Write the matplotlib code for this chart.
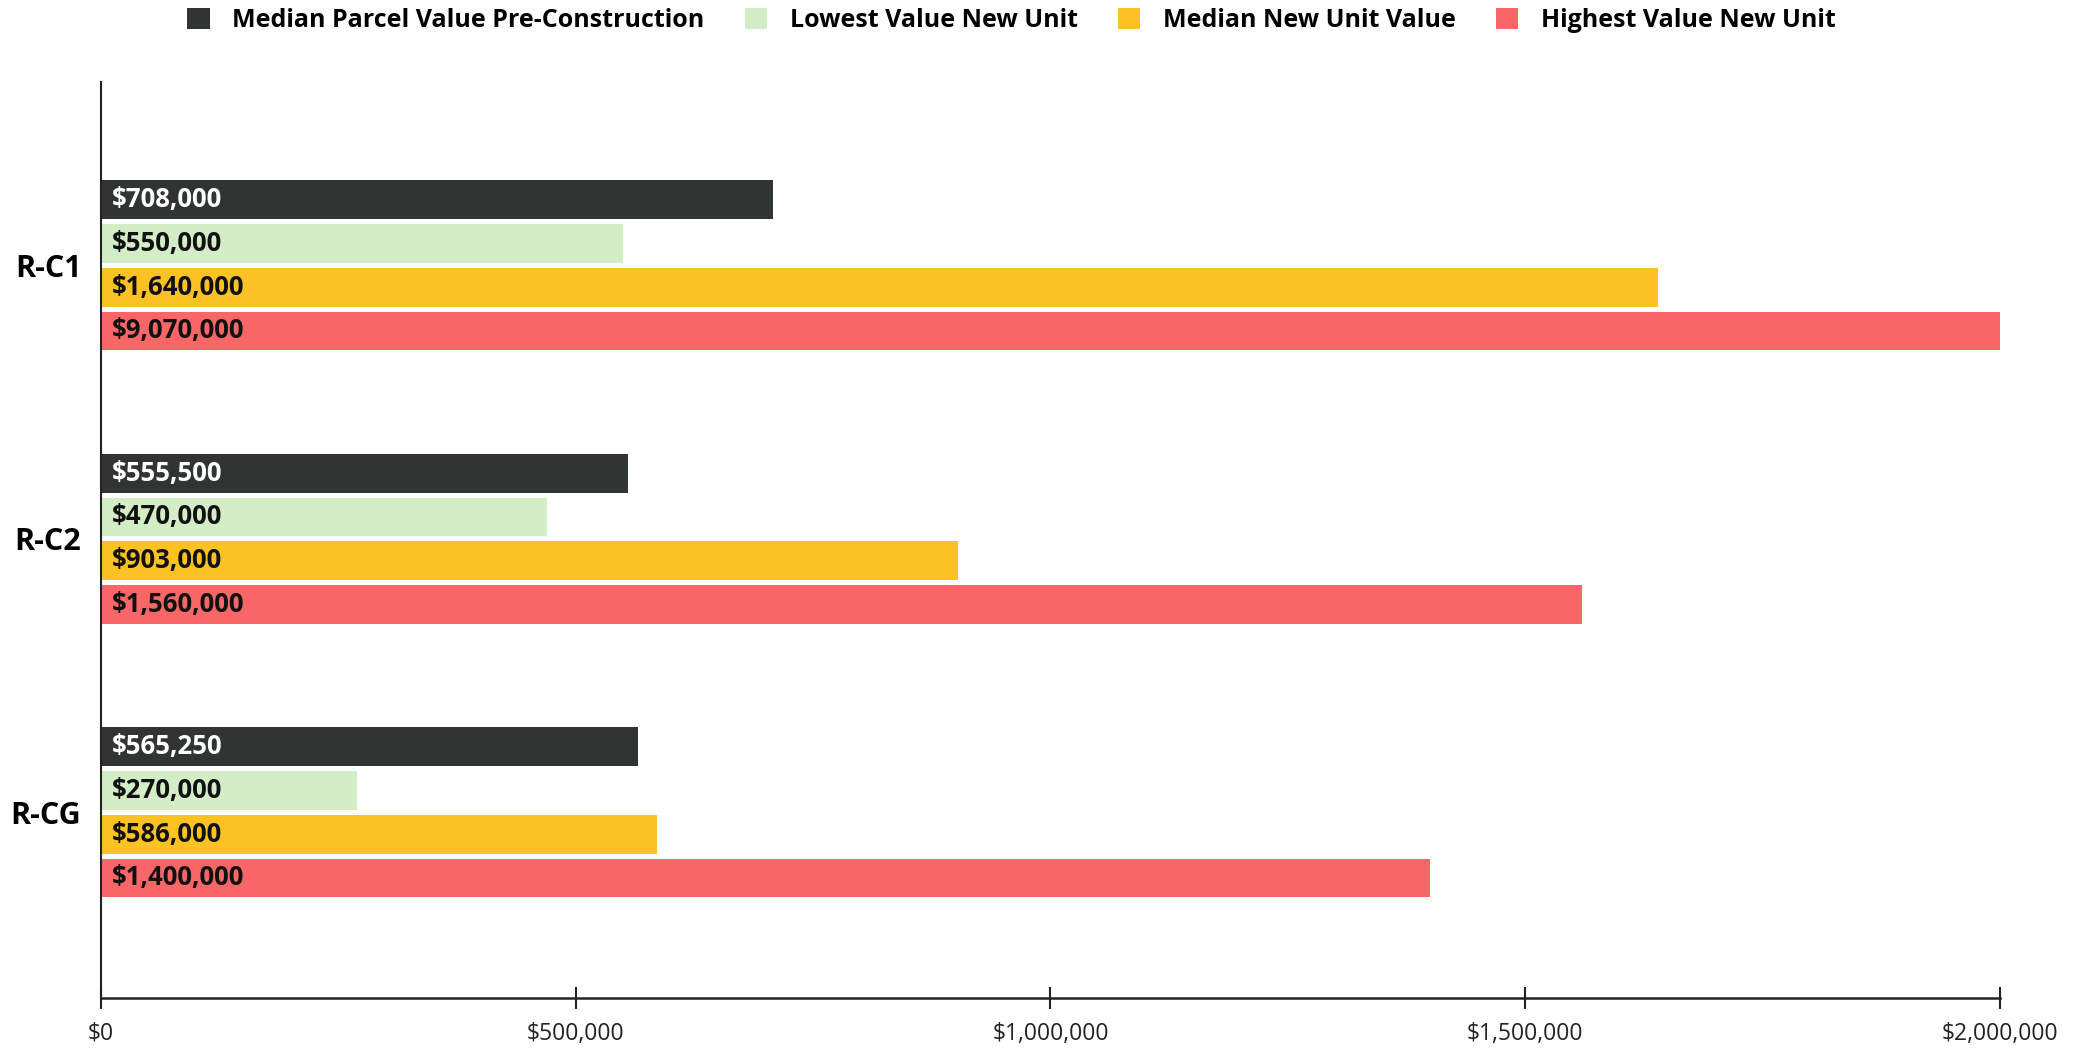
import matplotlib
matplotlib.use("Agg")
import matplotlib.pyplot as plt
import numpy as np
from matplotlib.patches import Patch
from matplotlib.ticker import FuncFormatter

zonas = ["R-C1", "R-C2", "R-CG"]
series = [
    "Median Parcel Value Pre-Construction",
    "Lowest Value New Unit",
    "Median New Unit Value",
    "Highest Value New Unit",
]
mediana_parcela = [708000, 555500, 565250]
minimo_nuevo = [550000, 470000, 270000]
mediana_nuevo = [1640000, 903000, 586000]
maximo_nuevo = [9070000, 1560000, 1400000]
valores = [mediana_parcela, minimo_nuevo, mediana_nuevo, maximo_nuevo]

colores = ["#303432", "#d3edc6", "#fcc224", "#f86667"]
color_texto = ["white", "#111111", "#111111", "#111111"]

plt.rcParams["font.family"] = ["Open Sans", "DejaVu Sans"]

fig = plt.figure(figsize=(20.81, 10.53), dpi=100)
ax = fig.add_axes([0.0485, 0.052, 0.9125, 0.870])

alto = 0.142
paso = 0.160
y = np.arange(len(zonas))
for i, (vals, col, tcol) in enumerate(zip(valores, colores, color_texto)):
    pos = y + (i - 1.5) * paso
    ax.barh(pos, vals, height=alto, color=col, zorder=2)
    for p, v in zip(pos, vals):
        ax.annotate("${:,.0f}".format(v), xy=(0, p), xytext=(8, 0),
                    textcoords="offset points", va="center", ha="left",
                    fontsize=18.5, fontweight="bold", color=tcol, zorder=3)

ax.set_xlim(0, 2000000)
ax.set_ylim(2.68, -0.67)
ax.set_xticks([0, 500000, 1000000, 1500000, 2000000])
ax.xaxis.set_major_formatter(FuncFormatter(lambda v, _: "${:,.0f}".format(v)))
ax.tick_params(axis="x", direction="inout", length=16, width=1.5,
               labelsize=16.5, pad=9, colors="#222222")
ax.set_yticks(y)
ax.set_yticklabels(zonas, fontsize=22, fontweight="bold")
ax.tick_params(axis="y", length=0, pad=14)

for s in ["top", "right"]:
    ax.spines[s].set_visible(False)
ax.spines["left"].set_linewidth(1.5)
ax.spines["bottom"].set_linewidth(1.8)
ax.spines["left"].set_color("#222222")
ax.spines["bottom"].set_color("#222222")

handles = [Patch(facecolor=c, edgecolor="none") for c in colores]
fig.legend(handles, series, loc="upper center", bbox_to_anchor=(0.486, 1.014),
           ncol=4, frameon=False, handlelength=0.9, handleheight=0.9,
           handletextpad=0.9, columnspacing=1.6,
           prop={"size": 18, "weight": "bold"})

fig.savefig("out.png", dpi=100)
